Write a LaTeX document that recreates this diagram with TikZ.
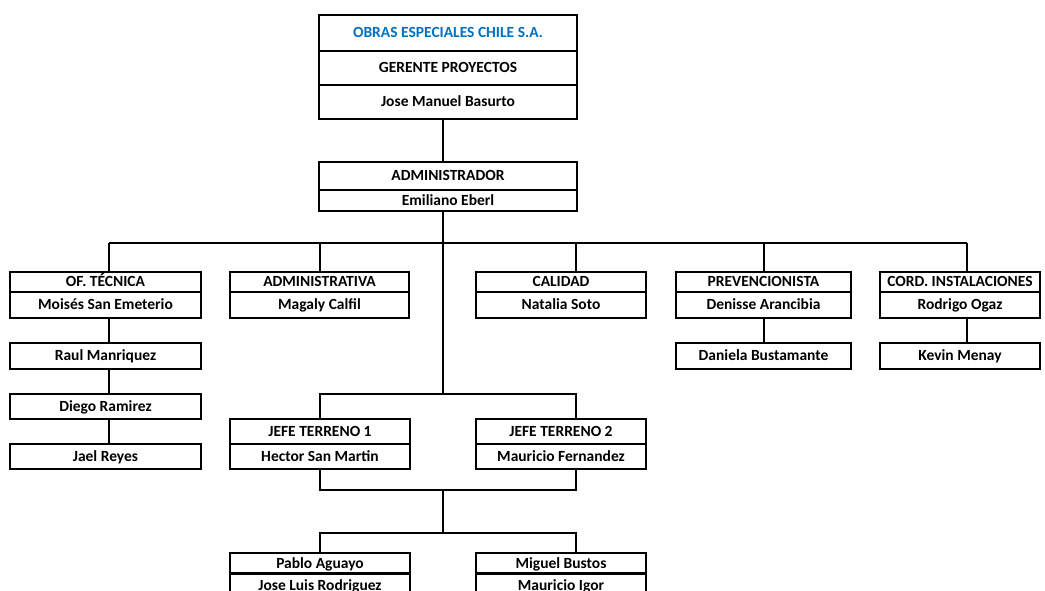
\documentclass[tikz,border=0pt]{standalone}
\usepackage{fontspec}
\setmainfont{Carlito}
\usepackage{tikz}
\usetikzlibrary{positioning}
\definecolor{obrasblue}{RGB}{0, 112, 192}

\begin{document}
\begin{tikzpicture}[x=1pt, y=-1pt,
    cell/.style={draw, line width=1.6pt, inner sep=0pt, text height=10pt, text depth=1pt,
        font=\fontsize{15.5}{18}\selectfont\bfseries},
    link/.style={line width=1.6pt}]
    \clip (0,0) rectangle (1045,591);
    \fill[white] (0,0) rectangle (1045,591);

    \node[cell, minimum width=258, minimum height=36, text=obrasblue] (obras) at (448,33) {OBRAS ESPECIALES CHILE S.A.};
    \node[cell, minimum width=258, minimum height=34] (gerente) at (448,68) {GERENTE PROYECTOS};
    \node[cell, minimum width=258, minimum height=34] (basurto) at (448,102) {Jose Manuel Basurto};
    \node[cell, minimum width=258, minimum height=28] (administrador) at (448,176) {ADMINISTRADOR};
    \node[cell, minimum width=258, minimum height=21] (eberl) at (448,200.5) {Emiliano Eberl};

    \node[cell, minimum width=191, minimum height=20] (tecnica) at (105.5,282) {OF. TÉCNICA};
    \node[cell, minimum width=191, minimum height=26] (sanemeterio) at (105.5,305) {Moisés San Emeterio};
    \node[cell, minimum width=191, minimum height=26] (manriquez) at (105.5,356) {Raul Manriquez};
    \node[cell, minimum width=191, minimum height=25] (ramirez) at (105.5,406.5) {Diego Ramirez};
    \node[cell, minimum width=191, minimum height=25] (reyes) at (105.5,456.5) {Jael Reyes};

    \node[cell, minimum width=179, minimum height=20] (administrativa) at (319.5,282) {ADMINISTRATIVA};
    \node[cell, minimum width=179, minimum height=26] (calfil) at (319.5,305) {Magaly Calfil};

    \node[cell, minimum width=170, minimum height=20] (calidad) at (561,282) {CALIDAD};
    \node[cell, minimum width=170, minimum height=26] (soto) at (561,305) {Natalia Soto};

    \node[cell, minimum width=175, minimum height=20] (prevencionista) at (763.5,282) {PREVENCIONISTA};
    \node[cell, minimum width=175, minimum height=26] (arancibia) at (763.5,305) {Denisse Arancibia};
    \node[cell, minimum width=175, minimum height=26] (bustamante) at (763.5,356) {Daniela Bustamante};

    \node[cell, minimum width=160, minimum height=20] (instalaciones) at (960,282) {CORD. INSTALACIONES};
    \node[cell, minimum width=160, minimum height=26] (ogaz) at (960,305) {Rodrigo Ogaz};
    \node[cell, minimum width=160, minimum height=26] (menay) at (960,356) {Kevin Menay};

    \node[cell, minimum width=180, minimum height=25] (jefe1) at (320,431.5) {JEFE TERRENO 1};
    \node[cell, minimum width=180, minimum height=25] (sanmartin) at (320,456.5) {Hector San Martin};
    \node[cell, minimum width=170, minimum height=25] (jefe2) at (561,431.5) {JEFE TERRENO 2};
    \node[cell, minimum width=170, minimum height=25] (fernandez) at (561,456.5) {Mauricio Fernandez};

    \node[cell, minimum width=180, minimum height=21] (aguayo) at (320,563.5) {Pablo Aguayo};
    \node[cell, minimum width=180, minimum height=26] (rodriguez) at (320,586) {Jose Luis Rodriguez};
    \node[cell, minimum width=170, minimum height=21] (bustos) at (561,563.5) {Miguel Bustos};
    \node[cell, minimum width=170, minimum height=26] (igor) at (561,586) {Mauricio Igor};

    \coordinate (spine) at (443,243);
    \coordinate (jefe-bus) at (443,394);
    \coordinate (team-top) at (443,490);
    \coordinate (team-bus) at (443,533);

    \draw[link] (basurto.south -| spine) -- (administrador.north -| spine);
    \draw[link] (eberl.south -| spine) -- (jefe-bus);
    \foreach \n/\x in {tecnica/109, administrativa/320, calidad/576, prevencionista/764, instalaciones/967}{
        \coordinate (\n-bus) at (\x,243);
        \draw[link] (\n-bus) -- (\n-bus |- \n.north);
    }
    \draw[link] (tecnica-bus) -- (instalaciones-bus);

    \draw[link] (sanemeterio.south -| tecnica-bus) -- (manriquez.north -| tecnica-bus);
    \draw[link] (manriquez.south -| tecnica-bus) -- (ramirez.north -| tecnica-bus);
    \draw[link] (ramirez.south -| tecnica-bus) -- (reyes.north -| tecnica-bus);
    \draw[link] (arancibia.south -| prevencionista-bus) -- (bustamante.north -| prevencionista-bus);
    \draw[link] (ogaz.south -| instalaciones-bus) -- (menay.north -| instalaciones-bus);

    \draw[link] (jefe1.north) |- (jefe-bus) -| (jefe2.north -| calidad-bus);
    \draw[link] (sanmartin.south) |- (team-top) -| (fernandez.south -| calidad-bus);
    \draw[link] (team-top) -- (team-bus);
    \draw[link] (aguayo.north) |- (team-bus) -| (bustos.north -| calidad-bus);
\end{tikzpicture}
\end{document}
